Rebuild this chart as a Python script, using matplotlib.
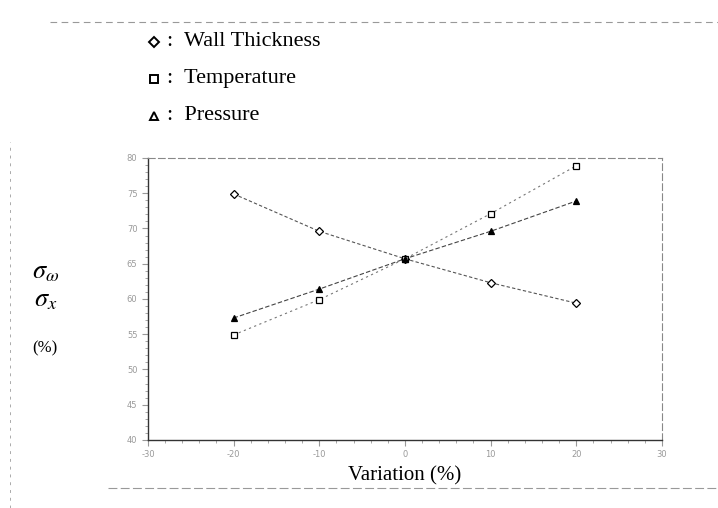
import matplotlib.pyplot as plt
import numpy as np
from matplotlib.lines import Line2D

# variation (%) and normalized stress values
variation = [-20, -10, 0, 10, 20]
wall = [74.9, 69.6, 65.7, 62.3, 59.4]
temperature = [54.9, 59.9, 65.7, 72.1, 78.9]
pressure = [57.3, 61.4, 65.7, 69.6, 73.9]

xticks = [-30, -20, -10, 0, 10, 20, 30]
xticklabels = ['-30', '-20', '-10', '0', '10', '20', '30']
yticks = [40, 45, 50, 55, 60, 65, 70, 75, 80]

serif = ['Liberation Serif', 'DejaVu Serif']
plt.rcParams['mathtext.fontset'] = 'stix'

fig = plt.figure(figsize=(7.18, 5.08), dpi=100)
ax = fig.add_axes([0.206, 0.134, 0.716, 0.555])

ax.plot(variation, wall, color='#555555', lw=0.8, ls=(0, (3, 2)),
        marker='D', ms=4, mfc='white', mec='black', mew=0.9)
ax.plot(variation, temperature, color='#777777', lw=0.8, ls=(0, (2, 3)),
        marker='s', ms=4.5, mfc='white', mec='black', mew=0.9)
ax.plot(variation, pressure, color='#444444', lw=0.8, ls=(0, (4, 2)),
        marker='^', ms=5, mfc='black', mec='black', mew=0.9)

ax.set_xlim(-30, 30)
ax.set_ylim(40, 80)
ax.set_xticks(xticks)
ax.set_xticklabels(xticklabels)
ax.set_xticks(np.arange(-30, 31, 2), minor=True)
ax.set_yticks(yticks)
ax.set_yticks(np.arange(40, 81, 1), minor=True)
ax.tick_params(labelsize=6, colors='#999999', length=4, width=0.8)
ax.tick_params(which='minor', length=2, width=0.6, color='#999999')

for s in ['left', 'bottom']:
    ax.spines[s].set_color('#333333')
    ax.spines[s].set_linewidth(1.0)
for s in ['top', 'right']:
    ax.spines[s].set_color('#888888')
    ax.spines[s].set_linewidth(0.8)
    ax.spines[s].set_linestyle((0, (6, 3)))

ax.set_xlabel('Variation (%)', fontsize=15, family=serif, labelpad=5)

# stacked y label
fig.text(0.063, 0.465, r'$\sigma_{\omega}$', fontsize=19, ha='center', va='center')
fig.text(0.063, 0.41, r'$\sigma_{x}$', fontsize=19, ha='center', va='center')
fig.text(0.063, 0.315, '(%)', fontsize=12, ha='center', va='center', family=serif)

# legend drawn as text lines
legend_items = [('D', 'Wall Thickness'), ('s', 'Temperature'), ('^', 'Pressure')]
for i, (m, label) in enumerate(legend_items):
    yy = 0.918 - i * 0.073
    fig.add_artist(Line2D([0.215], [yy], marker=m, ms=5.5, mfc='white', mec='black',
                          mew=1.4, ls='none'))
    fig.text(0.232, yy, ':  ' + label, fontsize=16, family=serif, va='center')

# scan borders
fig.add_artist(Line2D([0.07, 1.0], [0.957, 0.957], color='#999999', lw=0.8, ls=(0, (6, 4))))
fig.add_artist(Line2D([0.014, 0.014], [0.0, 0.72], color='#aaaaaa', lw=0.7, ls=(0, (3, 5))))
fig.add_artist(Line2D([0.15, 1.0], [0.04, 0.04], color='#999999', lw=0.8, ls=(0, (8, 3))))

fig.savefig('out.png', dpi=100)
